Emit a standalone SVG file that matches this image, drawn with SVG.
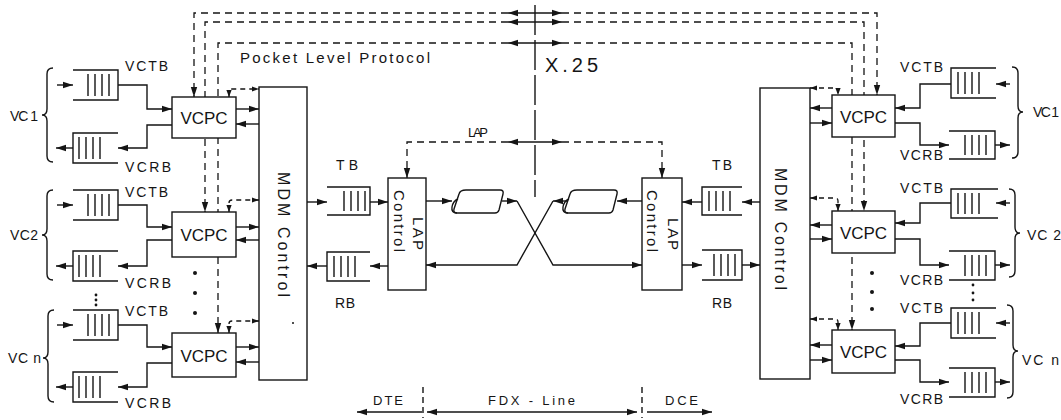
<svg xmlns="http://www.w3.org/2000/svg" width="1061" height="420" viewBox="0 0 1061 420">
<style>
.ln{fill:none;stroke:#151515;stroke-width:1.4}
.dl{fill:none;stroke:#151515;stroke-width:1.3;stroke-dasharray:7 5}
.bx{fill:#fff;stroke:#151515;stroke-width:1.4}
.t{font-family:"Liberation Sans",Arial,sans-serif;fill:#151515;font-size:14px}
.vc{font-size:17px;text-anchor:middle}
.dot{fill:#151515}
</style>
<defs>
<marker id="ah" markerUnits="userSpaceOnUse" markerWidth="11" markerHeight="8" refX="10" refY="4" orient="auto-start-reverse"><path d="M0,0.8 L10,4 L0,7.2 Z" fill="#151515"/></marker>
<marker id="as" markerUnits="userSpaceOnUse" markerWidth="8" markerHeight="6" refX="7" refY="3" orient="auto-start-reverse"><path d="M0,0.4 L7,3 L0,5.6 Z" fill="#151515"/></marker>
</defs>
<rect width="1061" height="420" fill="#fff"/>

<g id="connectors">
  <!-- top packet-level dashed lines -->
  <path class="dl" d="M508,13 H194 V97" marker-end="url(#ah)"/>
  <path class="dl" d="M508,22 H205 V212" marker-end="url(#ah)"/>
  <path class="dl" d="M508,43 H218 V333" marker-end="url(#ah)"/>
  <path class="dl" d="M562,13 H877 V95" marker-end="url(#ah)"/>
  <path class="dl" d="M562,22 H864 V211" marker-end="url(#ah)"/>
  <path class="dl" d="M562,43 H852 V330" marker-end="url(#ah)"/>
  <path class="ln" d="M508,13 H562" marker-start="url(#ah)" marker-end="url(#ah)"/>
  <path class="ln" d="M508,22 H562" marker-start="url(#ah)" marker-end="url(#ah)"/>
  <path class="ln" d="M508,43 H562" marker-start="url(#ah)" marker-end="url(#ah)"/>
  <!-- LAP dashed -->
  <path class="dl" d="M508,142 H407 V178" marker-end="url(#ah)"/>
  <path class="dl" d="M562,142 H662 V178" marker-end="url(#ah)"/>
  <path class="ln" d="M508,142 H562" marker-start="url(#ah)" marker-end="url(#ah)"/>
  <!-- X.25 boundary -->
  <path class="ln" d="M535,5 V197" style="stroke-dasharray:30 5"/>

  <!-- left VC connectors -->
  <path class="ln" d="M57,85 H73" marker-end="url(#ah)"/>
  <path class="ln" d="M118,85 H147 V109 H172" marker-end="url(#ah)"/>
  <path class="ln" d="M172,125 H147 V148 H118" marker-end="url(#ah)"/>
  <path class="ln" d="M73,148 H56" marker-end="url(#ah)"/>
  <path class="ln" d="M57,205 H73" marker-end="url(#ah)"/>
  <path class="ln" d="M118,205 H147 V227 H172" marker-end="url(#ah)"/>
  <path class="ln" d="M172,240 H147 V266 H118" marker-end="url(#ah)"/>
  <path class="ln" d="M73,266 H56" marker-end="url(#ah)"/>
  <path class="ln" d="M57,325 H73" marker-end="url(#ah)"/>
  <path class="ln" d="M118,325 H147 V347 H172" marker-end="url(#ah)"/>
  <path class="ln" d="M172,363 H147 V387 H118" marker-end="url(#ah)"/>
  <path class="ln" d="M73,387 H56" marker-end="url(#ah)"/>
  <!-- left VCPC <-> MDM -->
  <path class="ln" d="M236,109 H259" marker-end="url(#ah)"/>
  <path class="ln" d="M259,124 H236" marker-end="url(#ah)"/>
  <path class="ln" d="M236,227 H259" marker-end="url(#ah)"/>
  <path class="ln" d="M259,240 H236" marker-end="url(#ah)"/>
  <path class="ln" d="M236,347 H259" marker-end="url(#ah)"/>
  <path class="ln" d="M259,362 H236" marker-end="url(#ah)"/>
  <path class="dl" style="stroke-dasharray:5 4" d="M229,97 V92 Q229,89 232,89 H259" marker-start="url(#as)" marker-end="url(#as)"/>
  <path class="dl" style="stroke-dasharray:5 4" d="M229,212 V203 Q229,200 232,200 H259" marker-start="url(#as)" marker-end="url(#as)"/>
  <path class="dl" style="stroke-dasharray:5 4" d="M229,333 V324 Q229,321 232,321 H259" marker-start="url(#as)" marker-end="url(#as)"/>
  <!-- left TB / RB -->
  <path class="ln" d="M307,202 H327" marker-end="url(#ah)"/>
  <path class="ln" d="M370,202 H388" marker-end="url(#ah)"/>
  <path class="ln" d="M388,266 H370" marker-end="url(#ah)"/>
  <path class="ln" d="M327,266 H307" marker-end="url(#ah)"/>
  <!-- line section -->
  <path class="ln" d="M426,201 H452" marker-end="url(#ah)"/>
  <path class="ln" d="M502,201 H517" marker-end="url(#ah)"/>
  <path class="ln" d="M517,201 L553,265 H642" marker-end="url(#ah)"/>
  <path class="ln" d="M642,201 H617" marker-end="url(#ah)"/>
  <path class="ln" d="M567,201 H553" marker-end="url(#ah)"/>
  <path class="ln" d="M553,201 L517,265 H426" marker-end="url(#ah)"/>
  <!-- right TB / RB -->
  <path class="ln" d="M760,202 H742" marker-end="url(#ah)"/>
  <path class="ln" d="M702,202 H682" marker-end="url(#ah)"/>
  <path class="ln" d="M682,265 H702" marker-end="url(#ah)"/>
  <path class="ln" d="M742,265 H760" marker-end="url(#ah)"/>
  <!-- right VCPC <-> MDM -->
  <path class="ln" d="M832,108 H810" marker-end="url(#ah)"/>
  <path class="ln" d="M810,123 H832" marker-end="url(#ah)"/>
  <path class="ln" d="M832,225 H810" marker-end="url(#ah)"/>
  <path class="ln" d="M810,239 H832" marker-end="url(#ah)"/>
  <path class="ln" d="M832,345 H810" marker-end="url(#ah)"/>
  <path class="ln" d="M810,360 H832" marker-end="url(#ah)"/>
  <path class="dl" style="stroke-dasharray:5 4" d="M810,88 H835 Q838,88 838,91 V95" marker-start="url(#as)" marker-end="url(#as)"/>
  <path class="dl" style="stroke-dasharray:5 4" d="M810,198 H835 Q838,198 838,201 V211" marker-start="url(#as)" marker-end="url(#as)"/>
  <path class="dl" style="stroke-dasharray:5 4" d="M810,319 H835 Q838,319 838,322 V330" marker-start="url(#as)" marker-end="url(#as)"/>
  <!-- right VC connectors -->
  <path class="ln" d="M1010,84 H996" marker-end="url(#ah)"/>
  <path class="ln" d="M951,84 H920 V108 H895" marker-end="url(#ah)"/>
  <path class="ln" d="M895,123 H920 V145 H949" marker-end="url(#ah)"/>
  <path class="ln" d="M995,145 H1010" marker-end="url(#ah)"/>
  <path class="ln" d="M1010,203 H996" marker-end="url(#ah)"/>
  <path class="ln" d="M951,203 H920 V223 H895" marker-end="url(#ah)"/>
  <path class="ln" d="M895,239 H920 V265 H949" marker-end="url(#ah)"/>
  <path class="ln" d="M995,265 H1010" marker-end="url(#ah)"/>
  <path class="ln" d="M1010,323 H996" marker-end="url(#ah)"/>
  <path class="ln" d="M951,323 H920 V346 H895" marker-end="url(#ah)"/>
  <path class="ln" d="M895,360 H920 V382 H949" marker-end="url(#ah)"/>
  <path class="ln" d="M995,382 H1010" marker-end="url(#ah)"/>
  <!-- bottom DTE / FDX / DCE -->
  <path class="ln" d="M422,412 H357" marker-end="url(#ah)"/>
  <path class="ln" d="M427,412 H637" marker-start="url(#ah)" marker-end="url(#ah)"/>
  <path class="ln" d="M647,412 H712" marker-end="url(#ah)"/>
  <path class="ln" style="stroke-dasharray:6 4" d="M423,387 V418"/>
  <path class="ln" style="stroke-dasharray:6 4" d="M642,387 V418"/>
</g>

<!-- left virtual circuits -->
<g id="vc1-left">
  <path class="ln" d="M73,70 H118 V100 H73"/>
  <path class="ln" d="M88,74 V96 M95,74 V96 M102,74 V96 M109,74 V96"/>
  <path class="ln" d="M118,133 H73 V163 H118"/>
  <path class="ln" d="M79,137 V159 M86,137 V159 M93,137 V159 M100,137 V159"/>
  <path class="ln" d="M53,68 Q47,68 47,74 L47,109 Q47,115 42,115 Q47,115 47,121 L47,156 Q47,162 53,162"/>
  <text class="t" x="10" y="121" textLength="28">VC 1</text>
  <text class="t" x="125" y="71" textLength="43">VCTB</text>
  <text class="t" x="125" y="172" textLength="46">VCRB</text>
</g>
<g id="vc2-left">
  <path class="ln" d="M73,190 H118 V220 H73"/>
  <path class="ln" d="M88,194 V216 M95,194 V216 M102,194 V216 M109,194 V216"/>
  <path class="ln" d="M118,251 H73 V281 H118"/>
  <path class="ln" d="M79,255 V277 M86,255 V277 M93,255 V277 M100,255 V277"/>
  <path class="ln" d="M53,190 Q47,190 47,196 L47,229 Q47,235 42,235 Q47,235 47,241 L47,274 Q47,280 53,280"/>
  <text class="t" x="10" y="240" textLength="28">VC2</text>
  <text class="t" x="125" y="197" textLength="43">VCTB</text>
  <text class="t" x="125" y="288" textLength="46">VCRB</text>
</g>
<g id="vcn-left">
  <path class="ln" d="M73,310 H118 V340 H73"/>
  <path class="ln" d="M88,314 V336 M95,314 V336 M102,314 V336 M109,314 V336"/>
  <path class="ln" d="M118,372 H73 V402 H118"/>
  <path class="ln" d="M79,376 V398 M86,376 V398 M93,376 V398 M100,376 V398"/>
  <path class="ln" d="M54,310 Q48,310 48,316 L48,352 Q48,358 43,358 Q48,358 48,364 L48,396 Q48,402 54,402"/>
  <text class="t" x="8" y="363" textLength="33">VC n</text>
  <text class="t" x="125" y="316" textLength="43">VCTB</text>
  <text class="t" x="125" y="408" textLength="46">VCRB</text>
  <circle class="dot" cx="96" cy="295" r="1.4"/>
  <circle class="dot" cx="96" cy="300" r="1.4"/>
  <circle class="dot" cx="96" cy="305" r="1.4"/>
</g>
<g id="vcpc1-left"><rect class="bx" x="172" y="97" width="64" height="41"/><text class="t vc" x="204" y="124">VCPC</text></g>
<g id="vcpc2-left"><rect class="bx" x="172" y="212" width="64" height="45"/><text class="t vc" x="204" y="241">VCPC</text></g>
<g id="vcpcn-left"><rect class="bx" x="172" y="333" width="64" height="44"/><text class="t vc" x="204" y="362">VCPC</text></g>
<g id="dots-left">
  <circle class="dot" cx="195" cy="273" r="2"/>
  <circle class="dot" cx="195" cy="293" r="2"/>
  <circle class="dot" cx="195" cy="313" r="2"/>
</g>
<g id="mdm-left">
  <rect class="bx" x="259" y="87" width="48" height="293"/>
  <text class="t" font-size="16" style="font-size:16px" transform="translate(278,172) rotate(90)" textLength="125">MDM Control</text>
  <circle class="dot" cx="293" cy="323" r="1"/>
</g>
<g id="tb-left">
  <path class="ln" d="M327,187 H370 V215 H327"/>
  <path class="ln" d="M344,191 V211 M351,191 V211 M358,191 V211 M365,191 V211"/>
  <text class="t" x="336" y="170" textLength="22">TB</text>
</g>
<g id="rb-left">
  <path class="ln" d="M370,252 H327 V281 H370"/>
  <path class="ln" d="M334,256 V277 M341,256 V277 M348,256 V277 M355,256 V277"/>
  <text class="t" x="335" y="308" textLength="20">RB</text>
</g>
<g id="lap-left">
  <rect class="bx" x="388" y="178" width="38" height="112"/>
  <text class="t" style="font-size:15px" transform="translate(413,217) rotate(90)" textLength="33">LAP</text>
  <text class="t" style="font-size:15px" transform="translate(394,190) rotate(90)" textLength="62">Control</text>
</g>
<g id="line-left">
  <path class="bx" d="M466,190 H500 Q504,190 503,194 L499,210 Q498,213 495,213 H457 Q453,213 454,209 L459,194 Q460,190 466,190 Z"/>
  <path class="ln" d="M458,199 Q453,201 452,207 Q451,213 457,213"/>
</g>
<g id="line-right">
  <path class="bx" d="M577,190 H614 Q618,190 617,194 L613,210 Q612,213 609,213 H568 Q564,213 565,209 L570,194 Q571,190 577,190 Z"/>
  <path class="ln" d="M569,199 Q564,201 563,207 Q562,213 568,213"/>
</g>
<g id="lap-right">
  <rect class="bx" x="642" y="178" width="40" height="112"/>
  <text class="t" style="font-size:15px" transform="translate(668,218) rotate(90)" textLength="32">LAP</text>
  <text class="t" style="font-size:15px" transform="translate(647,190) rotate(90)" textLength="62">Control</text>
</g>
<g id="tb-right">
  <path class="ln" d="M742,187 H702 V215 H742"/>
  <path class="ln" d="M709,191 V211 M716,191 V211 M723,191 V211 M730,191 V211"/>
  <text class="t" x="712" y="170" textLength="20">TB</text>
</g>
<g id="rb-right">
  <path class="ln" d="M702,250 H742 V280 H702"/>
  <path class="ln" d="M714,254 V276 M721,254 V276 M728,254 V276 M735,254 V276"/>
  <text class="t" x="712" y="308" textLength="20">RB</text>
</g>
<g id="mdm-right">
  <rect class="bx" x="760" y="88" width="50" height="291"/>
  <text class="t" style="font-size:16px" transform="translate(775,168) rotate(90)" textLength="122">MDM Control</text>
</g>
<g id="vcpc1-right"><rect class="bx" x="832" y="95" width="63" height="42"/><text class="t vc" x="863.5" y="123">VCPC</text></g>
<g id="vcpc2-right"><rect class="bx" x="832" y="211" width="63" height="42"/><text class="t vc" x="863.5" y="239">VCPC</text></g>
<g id="vcpcn-right"><rect class="bx" x="832" y="330" width="63" height="43"/><text class="t vc" x="863.5" y="358">VCPC</text></g>
<g id="dots-right">
  <circle class="dot" cx="872" cy="273" r="2"/>
  <circle class="dot" cx="872" cy="292" r="2"/>
  <circle class="dot" cx="872" cy="309" r="2"/>
</g>
<g id="vc1-right">
  <path class="ln" d="M996,68 H951 V98 H996"/>
  <path class="ln" d="M958,72 V94 M965,72 V94 M972,72 V94 M979,72 V94"/>
  <path class="ln" d="M949,131 H995 V159 H949"/>
  <path class="ln" d="M965,135 V155 M972,135 V155 M979,135 V155 M986,135 V155"/>
  <path class="ln" d="M1012,67 Q1018,67 1018,73 L1018,106 Q1018,112 1023,112 Q1018,112 1018,118 L1018,152 Q1018,158 1012,158"/>
  <text class="t" x="1033" y="117" textLength="26">VC 1</text>
  <text class="t" x="900" y="72" textLength="43">VCTB</text>
  <text class="t" x="900" y="160" textLength="43">VCRB</text>
</g>
<g id="vc2-right">
  <path class="ln" d="M998,189 H951 V218 H998"/>
  <path class="ln" d="M958,193 V214 M965,193 V214 M972,193 V214 M979,193 V214"/>
  <path class="ln" d="M949,251 H995 V280 H949"/>
  <path class="ln" d="M965,255 V276 M972,255 V276 M979,255 V276 M986,255 V276"/>
  <path class="ln" d="M1009,189 Q1015,189 1015,195 L1015,227 Q1015,233 1020,233 Q1015,233 1015,239 L1015,271 Q1015,277 1009,277"/>
  <text class="t" x="1027" y="240" textLength="34">VC 2</text>
  <text class="t" x="900" y="193" textLength="43">VCTB</text>
  <text class="t" x="900" y="285" textLength="43">VCRB</text>
</g>
<g id="vcn-right">
  <path class="ln" d="M996,308 H951 V338 H996"/>
  <path class="ln" d="M958,312 V334 M965,312 V334 M972,312 V334 M979,312 V334"/>
  <path class="ln" d="M949,368 H995 V397 H949"/>
  <path class="ln" d="M965,372 V393 M972,372 V393 M979,372 V393 M986,372 V393"/>
  <path class="ln" d="M1007,305 Q1013,305 1013,311 L1013,345 Q1013,351 1018,351 Q1013,351 1013,357 L1013,392 Q1013,398 1007,398"/>
  <text class="t" x="1022" y="365" textLength="37">VC n</text>
  <text class="t" x="900" y="313" textLength="43">VCTB</text>
  <text class="t" x="900" y="404" textLength="43">VCRB</text>
  <circle class="dot" cx="973" cy="285" r="1.4"/>
  <circle class="dot" cx="973" cy="293" r="1.4"/>
  <circle class="dot" cx="973" cy="300" r="1.4"/>
</g>
<g id="labels">
  <text class="t" style="font-size:15px" x="240" y="63" textLength="190">Pocket Level Protocol</text>
  <text class="t" style="font-size:20px" x="545" y="72" textLength="53">X.25</text>
  <text class="t" style="font-size:13px" x="468" y="137" textLength="20">LAP</text>
  <text class="t" style="font-size:13px" x="373" y="405" textLength="30">DTE</text>
  <text class="t" style="font-size:13px" x="488" y="405" textLength="87">FDX - Line</text>
  <text class="t" style="font-size:13px" x="665" y="405" textLength="33">DCE</text>
</g>
</svg>
